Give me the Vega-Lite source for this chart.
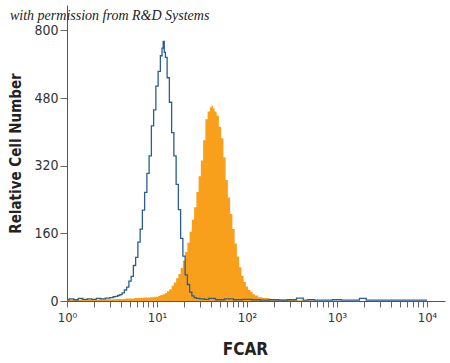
{
  "$schema": "https://vega.github.io/schema/vega-lite/v6.json",
  "width": 378,
  "height": 296,
  "autosize": {"type": "none"},
  "padding": {"left": 67, "top": 5, "right": 5, "bottom": 62},
  "background": "white",
  "title": {
    "text": "with permission from R&D Systems",
    "anchor": "start",
    "frame": "group",
    "orient": "top",
    "offset": 0,
    "dx": -57,
    "dy": 29,
    "baseline": "alphabetic",
    "font": "Liberation Serif",
    "fontStyle": "italic",
    "fontWeight": "normal",
    "fontSize": 14,
    "color": "#222222"
  },
  "config": {
    "view": {"stroke": null},
    "axis": {
      "grid": false,
      "domainColor": "#555555",
      "tickColor": "#666666",
      "labelColor": "#333333",
      "titleColor": "#222222",
      "labelFont": "DejaVu Sans Condensed, Liberation Sans Narrow, sans-serif",
      "titleFont": "DejaVu Sans Condensed, Liberation Sans Narrow, sans-serif"
    }
  },
  "datasets": {
    "control": [
      {"L":0.0,"n":3},{"L":0.05,"n":5},{"L":0.1,"n":3},{"L":0.15,"n":6},{"L":0.2,"n":4},{"L":0.25,"n":5},{"L":0.3,"n":4},{"L":0.35,"n":6},{"L":0.4,"n":5},{"L":0.45,"n":7},{"L":0.5,"n":8},{"L":0.525,"n":10},{"L":0.55,"n":11},{"L":0.575,"n":13},{"L":0.6,"n":15},{"L":0.625,"n":19},{"L":0.65,"n":26},{"L":0.675,"n":33},{"L":0.7,"n":47},{"L":0.725,"n":58},{"L":0.75,"n":84},{"L":0.775,"n":103},{"L":0.8,"n":139},{"L":0.825,"n":170},{"L":0.85,"n":215},{"L":0.875,"n":257},{"L":0.9,"n":302},{"L":0.925,"n":343},{"L":0.95,"n":414},{"L":0.975,"n":452},{"L":1.0,"n":508},{"L":1.025,"n":543},{"L":1.05,"n":580},{"L":1.062,"n":598},{"L":1.075,"n":614},{"L":1.087,"n":588},{"L":1.1,"n":576},{"L":1.125,"n":528},{"L":1.15,"n":470},{"L":1.175,"n":398},{"L":1.2,"n":343},{"L":1.225,"n":276},{"L":1.25,"n":216},{"L":1.275,"n":148},{"L":1.3,"n":106},{"L":1.325,"n":62},{"L":1.35,"n":39},{"L":1.375,"n":21},{"L":1.4,"n":12},{"L":1.425,"n":8},{"L":1.45,"n":6},{"L":1.5,"n":5},{"L":1.55,"n":4},{"L":1.6,"n":6},{"L":1.7,"n":3},{"L":1.8,"n":5},{"L":1.9,"n":3},{"L":2.0,"n":4},{"L":2.1,"n":3},{"L":2.2,"n":2},{"L":2.3,"n":3},{"L":2.4,"n":2},{"L":2.5,"n":3},{"L":2.6,"n":7},{"L":2.65,"n":2},{"L":2.7,"n":3},{"L":2.8,"n":2},{"L":2.9,"n":2},{"L":3.0,"n":3},{"L":3.1,"n":2},{"L":3.2,"n":2},{"L":3.3,"n":6},{"L":3.35,"n":2},{"L":3.4,"n":2},{"L":3.5,"n":2},{"L":3.6,"n":2},{"L":3.7,"n":2},{"L":3.8,"n":2},{"L":3.9,"n":2},{"L":4.0,"n":2}
    ],
    "fcar": [
      {"L":0.0,"n":3},{"L":0.1,"n":3},{"L":0.2,"n":4},{"L":0.3,"n":3},{"L":0.4,"n":4},{"L":0.5,"n":4},{"L":0.6,"n":5},{"L":0.7,"n":6},{"L":0.8,"n":7},{"L":0.9,"n":8},{"L":0.95,"n":9},{"L":1.0,"n":10},{"L":1.025,"n":12},{"L":1.05,"n":14},{"L":1.075,"n":16},{"L":1.1,"n":19},{"L":1.125,"n":23},{"L":1.15,"n":28},{"L":1.175,"n":36},{"L":1.2,"n":44},{"L":1.225,"n":54},{"L":1.25,"n":64},{"L":1.275,"n":78},{"L":1.3,"n":96},{"L":1.325,"n":116},{"L":1.35,"n":138},{"L":1.375,"n":164},{"L":1.4,"n":192},{"L":1.425,"n":222},{"L":1.45,"n":258},{"L":1.475,"n":295},{"L":1.5,"n":332},{"L":1.525,"n":380},{"L":1.55,"n":430},{"L":1.575,"n":448},{"L":1.6,"n":458},{"L":1.615,"n":462},{"L":1.63,"n":455},{"L":1.65,"n":448},{"L":1.675,"n":438},{"L":1.7,"n":412},{"L":1.725,"n":385},{"L":1.75,"n":340},{"L":1.775,"n":286},{"L":1.8,"n":245},{"L":1.825,"n":206},{"L":1.85,"n":170},{"L":1.875,"n":136},{"L":1.9,"n":105},{"L":1.925,"n":80},{"L":1.95,"n":60},{"L":1.975,"n":45},{"L":2.0,"n":34},{"L":2.025,"n":26},{"L":2.05,"n":21},{"L":2.075,"n":16},{"L":2.1,"n":13},{"L":2.15,"n":9},{"L":2.2,"n":7},{"L":2.3,"n":5},{"L":2.4,"n":4},{"L":2.5,"n":3},{"L":2.6,"n":2},{"L":2.7,"n":1},{"L":2.8,"n":0}
    ]
  },
  "encoding": {
    "x": {
      "field": "L",
      "type": "quantitative",
      "scale": {"domain": [0, 4.2], "nice": false, "zero": false},
      "axis": {
        "title": "FCAR",
        "titleFontSize": 17,
        "titleFontWeight": "bold",
        "titleX": 178,
        "titleY": 40,
        "values": [0,0.301,0.477,0.602,0.699,0.778,0.845,0.903,0.954,1,1.301,1.477,1.602,1.699,1.778,1.845,1.903,1.954,2,2.301,2.477,2.602,2.699,2.778,2.845,2.903,2.954,3,3.301,3.477,3.602,3.699,3.778,3.845,3.903,3.954,4],
        "labelExpr": "datum.value==0?'10⁰':datum.value==1?'10¹':datum.value==2?'10²':datum.value==3?'10³':datum.value==4?'10⁴':''",
        "labelOverlap": false,
        "labelFontSize": 13,
        "labelPadding": 4,
        "tickSize": 6,
        "labelFlush": false
      }
    },
    "y": {
      "field": "n",
      "type": "quantitative",
      "scale": {"domain": [0, 700], "nice": false},
      "axis": {
        "title": "Relative Cell Number",
        "titleFontSize": 15,
        "titleFontWeight": "bold",
        "titlePadding": 10,
        "values": [0, 160, 320, 480, 640],
        "labelExpr": "datum.value==640?'800':datum.label",
        "labelFontSize": 14,
        "labelPadding": 2,
        "tickSize": 7
      }
    }
  },
  "layer": [
    {
      "data": {"name": "fcar"},
      "mark": {"type": "area", "interpolate": "step", "color": "#F8A01C", "opacity": 1}
    },
    {
      "data": {"name": "control"},
      "mark": {"type": "line", "interpolate": "step", "color": "#2B5E8E", "strokeWidth": 1.3}
    }
  ]
}
